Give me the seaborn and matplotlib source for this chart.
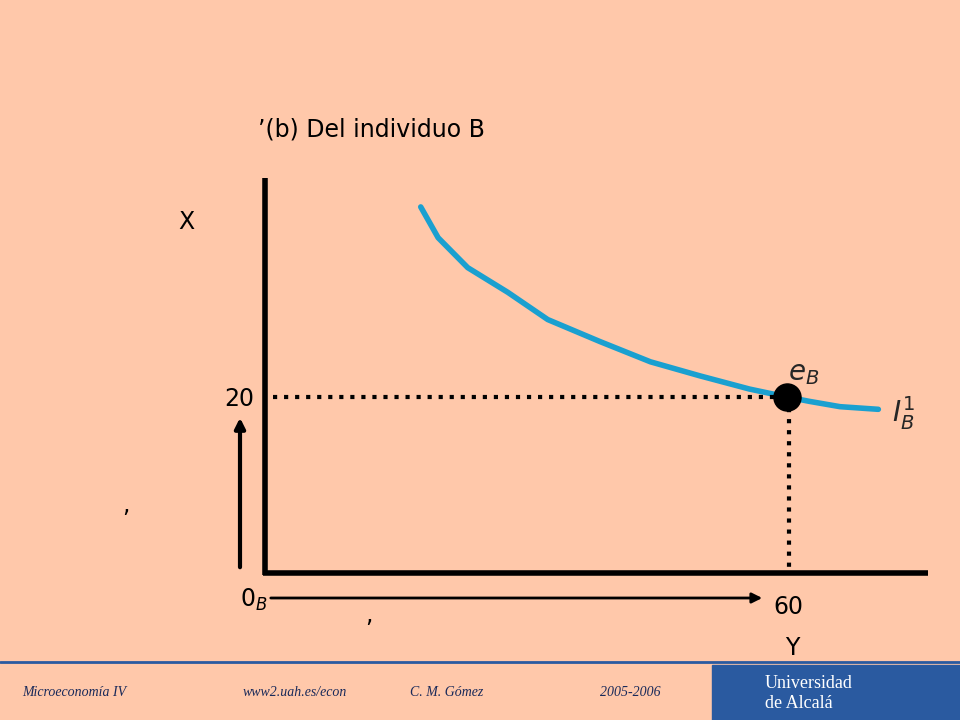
import matplotlib
matplotlib.use("Agg")
import matplotlib.pyplot as plt
import seaborn as sns
from matplotlib.patches import Rectangle

# curve I_B^1 in (Y, X) units
curve_y = [17.9, 19.9, 23.3, 27.9, 32.5, 38.5, 44.3, 50.0, 55.7, 60.0, 62.6, 66.1, 70.5]
curve_x = [41.6, 38.1, 34.7, 31.9, 28.8, 26.3, 24.0, 22.4, 20.9, 20.0, 19.5, 18.9, 18.6]
eq_y, eq_x = 60, 20
footer = ["Microeconomía IV", "www2.uah.es/econ", "C. M. Gómez", "2005-2006"]
footer_pos = [22, 243, 410, 600]

sns.set_theme(style="white")
bg = "#FFC8AA"
fig = plt.figure(figsize=(9.6, 7.2), dpi=100, facecolor=bg)
ax = fig.add_axes([0, 0, 1, 1])
ax.set_facecolor(bg)
ax.set_xlim(-265 / 8.7, (960 - 265) / 8.7)
ax.set_ylim(-147 / 8.8, 573 / 8.8)
ax.axis("off")

def px(x, y):
    return ((x - 265) / 8.7, (573 - y) / 8.8)

# axes
ax.plot(*zip(px(265, 178), px(265, 575)), color="black", lw=4, solid_capstyle="butt")
ax.plot(*zip(px(263, 573), px(928, 573)), color="black", lw=4, solid_capstyle="butt")

sns.lineplot(x=curve_y, y=curve_x, ax=ax, color="#1AA0D0", lw=4, sort=False)
ax.plot([0.9, eq_y], [eq_x, eq_x], color="black", ls=":", lw=3)
ax.plot([eq_y + 0.2, eq_y + 0.2], [eq_x, 0], color="black", ls=":", lw=3)
ax.scatter([eq_y], [eq_x], s=380, color="black", zorder=5)

# arrows
ax.annotate("", xy=px(240, 415), xytext=px(240, 570),
            arrowprops=dict(arrowstyle="-|>", color="black", lw=3, mutation_scale=15))
ax.annotate("", xy=px(765, 598), xytext=px(268, 598),
            arrowprops=dict(arrowstyle="-|>", color="black", lw=2, mutation_scale=15))

kw = dict(fontsize=17, color="black")
ax.text(*px(258, 130), "’(b) Del individuo B", va="center", **kw)
ax.text(*px(178, 222), "X", va="center", **kw)
ax.text(*px(224, 399), "20", va="center", **kw)
ax.text(*px(240, 600), "$0_B$", va="center", **kw)
ax.text(*px(773, 607), "60", va="center", **kw)
ax.text(*px(785, 648), "Y", va="center", **kw)
ax.text(*px(788, 373), "$e_B$", va="center", fontsize=20)
ax.text(*px(892, 413), "$I_B^1$", va="center", fontsize=20)
ax.text(*px(122, 505), ",", va="center", **kw)
ax.text(*px(365, 615), ",", va="center", **kw)

# footer
ax.plot(*zip(px(0, 662), px(960, 662)), color="#2A5AA0", lw=2)
for t, x0 in zip(footer, footer_pos):
    ax.text(*px(x0, 692), t, va="center", fontsize=10, style="italic",
            family="Liberation Serif", color="#1A2A5A")
ax.add_patch(Rectangle(px(712, 720), 248 / 8.7, 55 / 8.8, color="#2A5AA0", zorder=3))
ax.text(*px(765, 684), "Universidad", va="center", fontsize=13, color="white",
        family="Liberation Serif", zorder=4)
ax.text(*px(765, 704), "de Alcalá", va="center", fontsize=13, color="white",
        family="Liberation Serif", zorder=4)

fig.savefig("out.png", dpi=100, facecolor=bg)
